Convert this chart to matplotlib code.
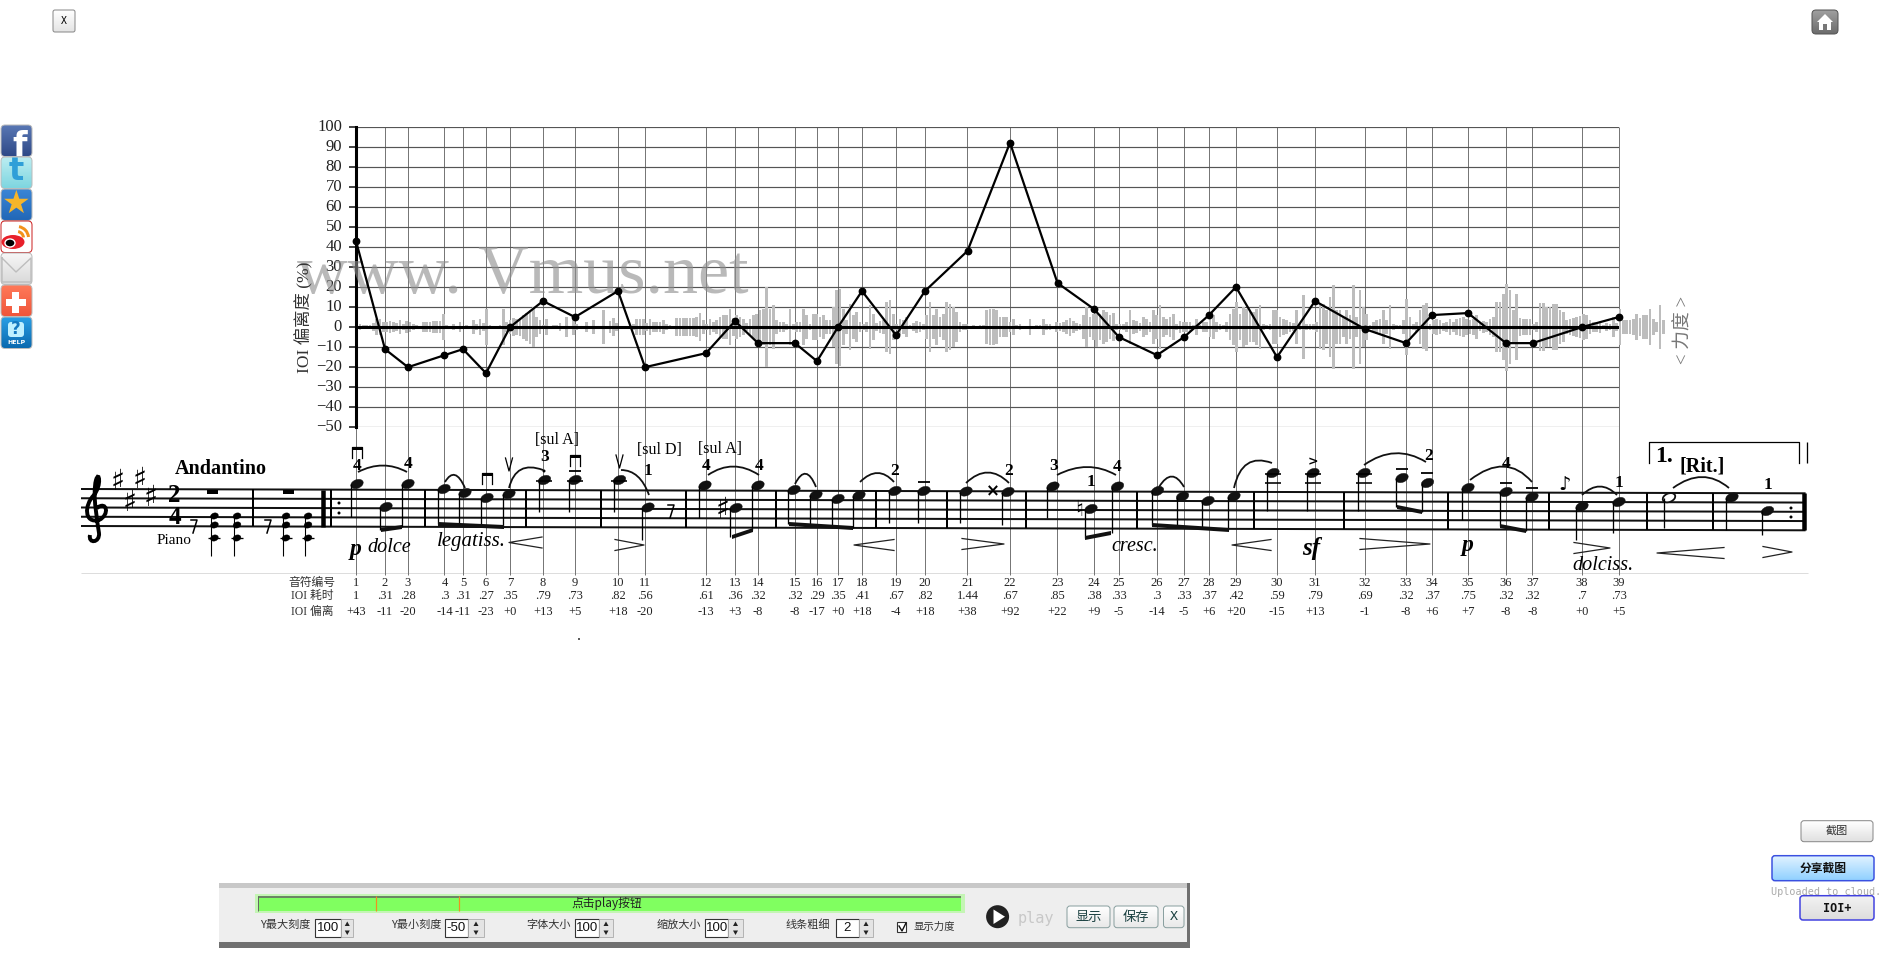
import numpy as np
import matplotlib
matplotlib.use("Agg")
import matplotlib.pyplot as plt
from matplotlib.patches import Ellipse, FancyBboxPatch, PathPatch, Rectangle, Circle, Polygon, Wedge
from matplotlib.path import Path
from matplotlib.colors import LinearSegmentedColormap
from matplotlib.transforms import ScaledTranslation

W, H = 1898, 974

# ---------- data ----------
note_ids = list(range(1, 40))
note_pos = [356, 385, 408, 444.5, 463, 486, 510, 543, 575, 618, 645, 706, 735, 758, 795, 817, 838, 862,
            896, 925, 967.5, 1010, 1057.5, 1094, 1119, 1157, 1184, 1209, 1236, 1277, 1315, 1365,
            1406, 1432, 1468, 1506, 1532.5, 1582, 1618.6]
ioi_time = ["1", ".31", ".28", ".3", ".31", ".27", ".35", ".79", ".73", ".82", ".56", ".61", ".36",
            ".32", ".32", ".29", ".35", ".41", ".67", ".82", "1.44", ".67", ".85", ".38", ".33", ".3",
            ".33", ".37", ".42", ".59", ".79", ".69", ".32", ".37", ".75", ".32", ".32", ".7", ".73"]
ioi_dev = [43, -11, -20, -14, -11, -23, 0, 13, 5, 18, -20, -13, 3, -8, -8, -17, 0, 18, -4, 18, 38, 92,
           22, 9, -5, -14, -5, 6, 20, -15, 13, -1, -8, 6, 7, -8, -8, 0, 5]
y_ticks = list(range(-50, 101, 10))

# loudness envelope, half height read in 1/6 of a percent unit, one bar per 3.33 px
wave_amp = [12, 8, 5, 5, 6, 12, 25, 25, 14, 15, 17, 16, 12, 22, 10, 18, 14, 8, 5, 4, 14, 15, 16, 18, 18, 18, 40,
            5, 4, 10, 4, 15, 4, 5, 4, 20, 8, 25, 12, 55, 5, 4, 4, 5, 55, 16, 22, 26, 25, 28, 35, 42, 50, 60,
            30, 22, 5, 25, 4, 5, 5, 12, 4, 30, 3, 25, 8, 4, 4, 14, 4, 22, 3, 4, 50, 3, 18, 28, 12, 4, 3, 4, 4,
            8, 25, 25, 25, 12, 24, 16, 16, 14, 20, 8, 7, 4, 28, 28, 28, 28, 28, 28, 30, 42, 22, 10, 25, 15, 22,
            30, 35, 35, 55, 28, 35, 30, 25, 12, 25, 35, 40, 50, 55, 120, 55, 65, 20, 15, 15, 10, 55, 10, 15, 15,
            55, 35, 10, 40, 40, 30, 35, 20, 20, 60, 110, 115, 55, 20, 70, 35, 45, 15, 10, 15, 65, 40, 12, 18,
            20, 75, 80, 40, 10, 25, 20, 30, 5, 12, 18, 15, 10, 35, 75, 35, 55, 30, 40, 75, 70, 60, 45, 15, 8,
            10, 4, 5, 3, 5, 5, 50, 55, 55, 50, 30, 30, 30, 15, 25, 5, 8, 3, 3, 25, 3, 5, 5, 25, 8, 10, 3, 14,
            12, 14, 20, 28, 18, 12, 10, 35, 60, 30, 40, 60, 40, 50, 45, 35, 42, 8, 10, 10, 14, 50, 20, 18, 12,
            30, 25, 16, 50, 35, 65, 30, 25, 30, 40, 8, 18, 16, 15, 15, 5, 25, 5, 16, 15, 30, 35, 15, 10, 5, 15,
            40, 55, 75, 40, 60, 55, 45, 45, 55, 65, 10, 5, 8, 50, 50, 30, 25, 20, 15, 12, 50, 10, 95, 10, 10,
            10, 15, 65, 70, 50, 90, 125, 50, 50, 30, 50, 35, 125, 30, 110, 60, 40, 5, 15, 20, 25, 50, 20, 65,
            8, 5, 5, 20, 85, 30, 10, 15, 50, 65, 72, 10, 20, 25, 20, 12, 15, 25, 15, 25, 28, 30, 25, 20, 25,
            35, 12, 18, 15, 25, 30, 75, 75, 100, 130, 110, 50, 100, 28, 25, 25, 25, 10, 15, 72, 72, 60, 60,
            70, 70, 50, 45, 20, 25, 28, 30, 32, 38, 35, 20, 15, 15, 18, 5, 12, 10, 30, 12, 55, 20, 22, 22, 25,
            40, 28, 35, 35, 55, 25, 15, 65, 22]
WAVE_START, WAVE_STEP, WAVE_UNIT = 356.7, 3.333, 1 / 6

# score (picture coordinates)
head_x = [357, 386, 408, 444, 465, 487, 509, 544.5, 575, 619.5, 648, 705, 736, 758, 794, 816, 838, 859,
          895, 924, 966, 1008, 1053, 1091, 1117.5, 1157.5, 1182.5, 1208, 1234, 1273, 1313, 1364, 1402,
          1427.5, 1468, 1506, 1532, 1582, 1619, 1732, 1767.5]
head_y = [484, 507, 484, 489, 493, 498, 494, 480, 480, 480, 507.5, 485.5, 508, 485.5, 490, 495, 499, 495.5,
          491, 491, 491.5, 492, 486.5, 509, 486.5, 491, 496.5, 501, 496.5, 473, 473, 473, 478, 483, 488,
          492, 497, 506.5, 502, 497.5, 511]
stem_end = [517, 530, 527, 524, 525, 526, 527, 512, 512, 512, 540, 518, 537, 530, 524, 526, 527, 528, 523, 523,
            523, 525, 518, 538, 533, 525, 527, 528, 530, 511, 511, 511, 507, 512, 520, 526, 531, 540, 533, 530, 535]
beams = [(381, 530, 402, 527), (438, 524, 504, 527), (732, 537, 753, 530), (789, 524, 853, 528),
         (1085, 538, 1111, 533), (1152, 525, 1229, 530), (1397, 507, 1422, 512), (1500, 526, 1526, 531)]
barlines = [252.7, 331, 424.6, 525.6, 600.6, 686.3, 775.6, 875.6, 947.5, 1025.6, 1137, 1253.8, 1344.4, 1448,
            1549, 1647.5, 1713]
slurs = [(358, 472, 383, 459, 407, 472), (445, 482, 455, 465, 465, 488), (509, 488, 516, 460, 543, 470),
         (621, 470, 640, 470, 649, 495), (708, 475, 733, 458, 759, 475), (795, 484, 806, 462, 816, 487),
         (860, 482, 878, 464, 894, 482), (966, 483, 988, 462, 1009, 483), (1057, 475, 1088, 459, 1116, 475),
         (1159, 487, 1172, 466, 1184, 487), (1234, 488, 1242, 452, 1272, 463), (1364, 465, 1395, 443, 1426, 462),
         (1470, 480, 1506, 452, 1532, 482), (1582, 495, 1600, 478, 1617, 495), (1673, 488, 1703, 466, 1729, 488)]
hairpins = [(509, 542, 542.5, '<'), (615, 644, 545, '>'), (854, 894, 545, '<'), (962, 1004, 544, '>'),
            (1232, 1271, 545, '<'), (1360, 1430, 544, '>'), (1574, 1610, 548, '>'), (1657, 1724, 553, '<'),
            (1763, 1792, 552, '>')]
fingerings = [(357, 465.7, '4'), (408, 464, '4'), (544.5, 457, '3'), (648, 471, '1'), (706, 466, '4'), (759, 466, '4'),
              (895, 471, '2'), (1009, 470.7, '2'), (1054, 466, '3'), (1091, 481.7, '1'), (1117.5, 467, '4'),
              (1429, 456, '2'), (1506, 464, '4'), (1619, 483, '1'), (1767.5, 485, '1')]
expressions = [(389, 548, 'dolce', 14.5), (471, 541.5, 'legatiss.', 15), (1135, 546.5, 'cresc.', 14.5),
               (1603, 565, 'dolciss.', 14.5)]
dynamics = [(356, 550, 'p', 17), (1311, 549, 'sf', 18), (1468, 546, 'p', 17)]
string_marks = [(557.5, 440, '[sul A]'), (659.5, 450.5, '[sul D]'), (720, 449, '[sul A]')]
down_bows = [(357, 447), (487, 473), (575, 455)]
up_bows = [(509, 458), (619.5, 455)]
tenuto = [(575, 470.7), (924, 482), (1402, 469), (1427.5, 473), (1506, 483), (1532, 487.7)]
sharps = [(118, 482), (130, 503), (140, 480), (151, 498), (723, 510)]
spin_boxes = [(285, 'Y最大刻度', 315, 341, 353.5, '100'), (416, 'Y最小刻度', 445, 468, 484, '-50'),
              (549, '字体大小', 575.4, 599, 613, '100'), (679, '缩放大小', 705.5, 728, 743, '100'),
              (808, '线条粗细', 836, 859, 873, '2')]

CJK = ['Noto Sans CJK SC', 'DejaVu Sans']
SER = ['Liberation Serif', 'Noto Sans CJK SC']

fig = plt.figure(figsize=(W / 100, H / 100), dpi=100, facecolor='white')

# full-figure layer in picture coordinates
bg = fig.add_axes([0, 0, 1, 1], zorder=1)
bg.set_xlim(0, W)
bg.set_ylim(H, 0)
bg.axis('off')
bg.patch.set_alpha(0)


def line(x0, y0, x1, y1, lw=1.0, c='k', z=3, ax=bg):
    ax.plot([x0, x1], [y0, y1], color=c, lw=lw * 0.72, solid_capstyle='butt', zorder=z)


def rbox(x0, y0, x1, y1, fc, ec='#888888', lw=1.0, r=3, z=5):
    p = FancyBboxPatch((x0, y0), x1 - x0, y1 - y0, boxstyle=f"round,pad=0,rounding_size={r}",
                       fc=fc, ec=ec, lw=lw * 0.72, zorder=z)
    bg.add_patch(p)
    return p


def grad(x0, y0, x1, y1, c_top, c_bot, r=3, ec='#888888', lw=1.0, z=5):
    p = rbox(x0, y0, x1, y1, 'none', ec=ec, lw=lw, r=r, z=z + 0.1)
    cm = LinearSegmentedColormap.from_list('g', [c_top, c_bot])
    im = bg.imshow(np.linspace(0, 1, 32)[:, None], extent=(x0, x1, y1, y0), cmap=cm, aspect='auto', zorder=z)
    clip = FancyBboxPatch((x0, y0), x1 - x0, y1 - y0, boxstyle=f"round,pad=0,rounding_size={r}",
                          transform=bg.transData, fc='none', ec='none')
    bg.add_patch(clip)
    im.set_clip_path(clip)
    bg.set_xlim(0, W)
    bg.set_ylim(H, 0)
    return p


# ---------- score ----------
for k in range(5):
    yl = 489 + k * 9.25
    line(81, yl, 1805.6, yl + 4.3, lw=2.0, c='#111111')
line(81, 573, 1808, 573, lw=1, c='#dddddd', z=1)
for x in note_pos:
    line(x, 126.7, x, 575, lw=1, c='#777777', z=2)
for x in barlines:
    t = (x - 81) / 1724.6 * 4.3
    line(x, 489 + t, x, 526 + t, lw=2.0)
line(323.5, 489.6, 323.5, 526.6, lw=4.5)
line(1803.8, 493.3, 1803.8, 530.3, lw=4.5)
for hx, hy, se in zip(head_x, head_y, stem_end):
    bg.add_patch(Ellipse((hx, hy), 13, 8.6, angle=-22, fc='#111111', ec='#111111', lw=0.3, zorder=4))
    line(hx - 5.5, hy, hx - 5.5, se, lw=1.3, z=4)
bg.add_patch(Ellipse((1669, 497.7), 13, 8.5, angle=-22, fc='white', ec='#111111', lw=1.3, zorder=4))
line(1664, 498, 1664, 528, lw=1.3, z=4)
for x0, y0, x1, y1 in beams:
    bg.add_patch(Polygon([(x0, y0 - 2), (x1, y1 - 2), (x1, y1 + 2), (x0, y0 + 2)], fc='#111111', ec='none', zorder=4))
for x0, y0, cx, cy, x1, y1 in slurs:
    bg.add_patch(PathPatch(Path([(x0, y0), (cx, cy), (x1, y1)], [Path.MOVETO, Path.CURVE3, Path.CURVE3]),
                           fc='none', ec='#111111', lw=1.3, zorder=4))
for x0, x1, yc, kind in hairpins:
    tip, op = (x0, x1) if kind == '<' else (x1, x0)
    bg.plot([op, tip, op], [yc - 5.5, yc, yc + 5.5], color='#222222', lw=0.9, zorder=4)
for x, y, s in fingerings:
    bg.text(x, y, s, family='Liberation Serif', weight='bold', fontsize=12.5, ha='center', va='center', zorder=6)
for x, y, s, fs in expressions:
    bg.text(x, y, s, family='Liberation Serif', style='italic', fontsize=fs, ha='center', va='center', zorder=6)
for x, y, s, fs in dynamics:
    bg.text(x, y, s, family='Liberation Serif', style='italic', weight='bold', fontsize=fs, ha='center', va='center', zorder=6)
for x, y, s in string_marks:
    bg.text(x, y, s, family='Liberation Serif', fontsize=11.5, ha='center', va='center', zorder=6)
for x, y in down_bows:
    bg.plot([x - 5, x - 5, x + 5, x + 5], [y + 11, y, y, y + 11], color='k', lw=0.9, zorder=6)
    line(x - 5, y + 1, x + 5, y + 1, lw=3, z=6)
for x, y in up_bows:
    bg.plot([x - 3.5, x, x + 3.5], [y, y + 13, y], color='k', lw=0.9, zorder=6)
for x, y in tenuto:
    line(x - 6, y, x + 6, y, lw=1.8, z=6)
for x in head_x[7:10]:
    line(x - 8, 481, x + 8, 481, lw=1.6, z=4)
for x in head_x[29:32]:
    line(x - 8, 483, x + 8, 483, lw=1.6, z=4)
    line(x - 8, 474, x + 8, 474, lw=1.6, z=4)
for x, y in sharps:
    bg.text(x, y, '♯', family='DejaVu Sans', weight='bold', fontsize=21, ha='center', va='center', zorder=6)
bg.text(1079, 510, '♮', family='DejaVu Sans', weight='bold', fontsize=16, ha='center', va='center', zorder=6)
bg.text(992.5, 491, '×', family='DejaVu Sans', weight='bold', fontsize=12, ha='center', va='center', zorder=6)
bg.text(1313, 462, '>', family='DejaVu Sans', weight='bold', fontsize=9, ha='center', va='center', zorder=6)
bg.text(1565, 484, '♪', family='DejaVu Sans', fontsize=14, ha='center', va='center', zorder=6)
for x, y in [(339, 503), (339, 513), (1791, 508), (1791, 517), (544, 471)]:
    bg.add_patch(Circle((x, y), 1.5, fc='k', ec='none', zorder=6))
# clef
clef = [(97, 508), (107, 500), (110, 515), (99, 520), (84, 524), (84, 505), (94, 495), (102, 485), (99, 470), (96, 480),
        (92, 495), (98, 525), (99, 533), (100, 543), (88, 544), (90, 535)]
codes = [Path.MOVETO] + [Path.CURVE4] * 15
bg.add_patch(PathPatch(Path(clef, codes), fc='none', ec='k', lw=2.8, zorder=6))
# time signature, piano part and rests
bg.text(174.6, 496, '2', family='Liberation Serif', weight='bold', fontsize=18, ha='center', va='center', zorder=6)
bg.text(174.6, 518, '4', family='Liberation Serif', weight='bold', fontsize=18, ha='center', va='center', zorder=6)
bg.text(220.5, 469, 'Andantino', family='Liberation Serif', weight='bold', fontsize=14.5, ha='center', va='center', zorder=6)
bg.text(173.6, 541, 'Piano', family='Liberation Serif', fontsize=11, ha='center', va='center', zorder=6)
for x in [213, 289]:
    bg.add_patch(Rectangle((x - 5.5, 490), 11, 4, fc='k', ec='none', zorder=4))
for x in [214.4, 237, 286, 308]:
    for y in [516, 525, 538]:
        bg.add_patch(Ellipse((x, y), 8, 6, angle=-20, fc='k', ec='k', lw=0.3, zorder=4))
    line(x - 3, 516, x - 3, 556, lw=1.1, z=4)
    line(x - 6, 538, x + 6, 538, lw=1.3, z=4)
for x, y in [(194, 525), (268, 525), (671, 510)]:
    bg.plot([x - 3, x + 3, x - 1], [y - 5, y - 5, y + 8], color='k', lw=1.1, zorder=4)
# volta
bg.plot([1649, 1649, 1799, 1799], [463, 442, 442, 463], color='k', lw=0.9, zorder=4)
line(1807, 442, 1807, 463, lw=1.3)
bg.text(1664, 457, '1.', family='Liberation Serif', weight='bold', fontsize=17, ha='center', va='center', zorder=6)
bg.text(1702, 466, '[Rit.]', family='Liberation Serif', weight='bold', fontsize=14.5, ha='center', va='center', zorder=6)

# ---------- rows under the score ----------
for yy, s, fam in [(582.7, '音符编号', CJK), (596, 'IOI 耗时', SER), (612, 'IOI 偏离', SER)]:
    bg.text(312, yy, s, family=fam, fontsize=8.5, color='#333333', ha='center', va='center', zorder=6)
for x, n, t, d in zip(note_pos, note_ids, ioi_time, ioi_dev):
    bg.text(x, 582.7, str(n), family='Liberation Serif', fontsize=9, color='#222222', ha='center', va='center', zorder=6)
    bg.text(x, 596, t, family='Liberation Serif', fontsize=9, color='#222222', ha='center', va='center', zorder=6)
    bg.text(x, 612, f"{d:+d}", family='Liberation Serif', fontsize=9, color='#222222', ha='center', va='center', zorder=6)
bg.add_patch(Circle((579, 639), 0.9, fc='k', ec='none'))

# ---------- chart ----------
X0, X1, Y100, YM50 = 356.0, 1618.6, 126.7, 427.3
ax = fig.add_axes([X0 / W, 1 - YM50 / H, (X1 - X0) / W, (YM50 - Y100) / H], zorder=2)
ax.patch.set_alpha(0)
ax.set_xlim(X0, X1)
ax.set_ylim(-50, 100)
for s in ['top', 'right', 'bottom']:
    ax.spines[s].set_visible(False)
ax.spines['left'].set_linewidth(2.2)
ax.set_xticks([])
ax.set_yticks(y_ticks)
ax.tick_params(axis='y', length=5, width=1.2, pad=5, labelsize=12, colors='#222222')
for lab in ax.get_yticklabels():
    lab.set_family('Liberation Serif')
    lab.set_transform(lab.get_transform() + ScaledTranslation(0, 2 / 100, fig.dpi_scale_trans))
ax.grid(True, axis='y', color='#555555', lw=0.85, zorder=1)
ax.set_axisbelow(True)
wave_x = WAVE_START + WAVE_STEP * np.arange(len(wave_amp))
wave_h = np.array(wave_amp) * WAVE_UNIT
ax.bar(wave_x, 2 * wave_h, bottom=-wave_h, width=2.6, color='#bdbdbd', clip_on=False, zorder=1.5)
ax.axhline(0, color='k', lw=2.2, zorder=2.5)
ax.plot(note_pos, ioi_dev, color='k', lw=1.6, marker='o', ms=4.6, clip_on=False, zorder=4)
ax.text(297, 292.7, 'www. Vmus.net', transform=bg.transData, family='Liberation Serif', fontsize=50.5,
        color='#8f8f8f', alpha=0.62, ha='left', va='baseline', zorder=3)
ax.text(304.5, 317.5, 'IOI 偏离度 (%)', transform=bg.transData, family=SER, fontsize=12.5, color='#333333',
        rotation=90, ha='center', va='center', zorder=5)
ax.text(1684, 330, '< 力度 >', transform=bg.transData, family=SER, fontsize=13.5, color='#777777',
        rotation=90, ha='center', va='center', zorder=5)

# ---------- page furniture ----------
grad(53, 10, 75, 32, '#ffffff', '#e4e4e4', r=2)
bg.text(64, 21, 'X', family='DejaVu Sans Mono', fontsize=7, ha='center', va='center', zorder=7)
# home
grad(1812, 10, 1838, 34, '#a0a0a0', '#6c6c6c', r=4, ec='#555555')
bg.add_patch(Polygon([(1825, 14), (1833, 22), (1817, 22)], fc='white', ec='none', zorder=7))
bg.add_patch(Rectangle((1819, 22), 12, 8, fc='white', ec='none', zorder=7))
bg.add_patch(Rectangle((1823, 24), 4, 6, fc='#777777', ec='none', zorder=7))
# social icons
icons = [('#5a78b5', '#2f4a88'), ('#bdeef2', '#7fd6e0'), ('#3b86d6', '#2268b8'), ('#ffffff', '#ffffff'),
         ('#f8f8f8', '#d8d8d8'), ('#ff7a5a', '#f0563a'), ('#2aa0e6', '#0a6ab0')]
for i, (c1, c2) in enumerate(icons):
    y0 = 125 + 32 * i
    grad(1, y0, 32, y0 + 31.5, c1, c2, r=4, ec='#cc2222' if i == 3 else '#bbbbbb')
bg.text(20, 146, 'f', family='DejaVu Sans', weight='bold', fontsize=24, color='white', ha='center', va='center', zorder=7)
bg.text(16, 172, 't', family='DejaVu Sans', weight='bold', fontsize=23, color='#2f9fd8', ha='center', va='center', zorder=7)
bg.text(16, 204, '★', family='DejaVu Sans', fontsize=23, color='#f6b52a', ha='center', va='center', zorder=7)
bg.add_patch(Ellipse((13, 242), 23, 14, fc='#e8202a', ec='none', zorder=7))
bg.add_patch(Ellipse((10, 243), 10, 8, fc='black', ec='white', lw=1, zorder=7))
bg.add_patch(Wedge((17, 238), 13, 280, 355, width=3, fc='#f2921c', ec='none', zorder=7))
bg.add_patch(Wedge((17, 238), 8, 280, 355, width=3, fc='#f2921c', ec='none', zorder=7))
bg.plot([2, 16, 31, 31, 2, 2], [258, 272, 258, 282, 282, 258], color='#bdbdbd', lw=1, zorder=7)
bg.add_patch(Rectangle((12.5, 292), 7, 21, fc='white', ec='none', zorder=7))
bg.add_patch(Rectangle((6, 299), 20, 7, fc='white', ec='none', zorder=7))
bg.add_patch(FancyBboxPatch((8, 322), 16, 15, boxstyle="round,pad=0,rounding_size=3", fc='#bff0ff', ec='none', zorder=7))
bg.text(16, 329.5, '?', family='DejaVu Sans', weight='bold', fontsize=12, color='#1478c0', ha='center', va='center', zorder=8)
bg.text(16, 343, 'HELP', family='DejaVu Sans', weight='bold', fontsize=4.5, color='white', ha='center', va='center', zorder=8)
# right buttons
grad(1801, 820.7, 1873, 841.7, '#ffffff', '#e0e0e0', r=3)
bg.text(1837, 831, '截图', family=CJK, fontsize=8, color='#333333', ha='center', va='center', zorder=7)
grad(1772, 855.7, 1874, 880.7, '#dff2ff', '#8fd0ff', r=3, ec='#3a50e0', lw=1.5)
bg.text(1823, 868, '分享截图', family=CJK, weight='bold', fontsize=8.5, color='#111111', ha='center', va='center', zorder=7)
bg.text(1826.5, 892, 'Uploaded to cloud.', family='DejaVu Sans Mono', fontsize=7.3, color='#aaaaaa', ha='center', va='center', zorder=4)
grad(1800, 895.7, 1874, 920, '#f4f4f4', '#dcdcdc', r=3, ec='#4040e0', lw=1.5)
bg.text(1837, 908, 'IOI+', family='DejaVu Sans Mono', weight='bold', fontsize=8.5, color='#111111', ha='center', va='center', zorder=7)

# control panel
bg.add_patch(Rectangle((219, 882.7), 971, 65, fc='#eeeeee', ec='none', zorder=3))
bg.add_patch(Rectangle((219, 882.7), 971, 5.5, fc='#c8c8c8', ec='none', zorder=3.1))
bg.add_patch(Rectangle((219, 941.7), 971, 6, fc='#707070', ec='none', zorder=3.1))
bg.add_patch(Rectangle((1187.5, 882.7), 2.5, 65, fc='#707070', ec='none', zorder=3.1))
bg.add_patch(Rectangle((255, 893.5), 710, 19, fc='#c4f5b4', ec='none', zorder=3.2))
bg.add_patch(Rectangle((258, 895.7), 703, 15, fc='#80ff60', ec='none', zorder=3.3))
line(258, 896.5, 961, 896.5, lw=1.6, c='#666666', z=3.4)
line(258.5, 896, 258.5, 910.7, lw=1, c='#666666', z=3.4)
for x in [376.5, 459.4]:
    line(x, 896, x, 910.7, lw=1.2, c='#f09020', z=3.5)
bg.text(606.7, 903, '点击play按钮', family=CJK, fontsize=8.5, color='#222222', ha='center', va='center', zorder=6)
for cx, s, x0, x1, x2, val in spin_boxes:
    bg.text(cx, 925, s, family=CJK, fontsize=8, color='#333333', ha='center', va='center', zorder=6)
    bg.add_patch(Rectangle((x0, 919), x1 - x0, 18, fc='white', ec='#333333', lw=0.8, zorder=5))
    bg.add_patch(Rectangle((x1, 919), x2 - x1, 18, fc='#e4e4e4', ec='#aaaaaa', lw=0.6, zorder=5))
    xm = (x1 + x2) / 2
    bg.add_patch(Polygon([(xm, 921.5), (xm + 2.5, 926), (xm - 2.5, 926)], fc='#222222', ec='none', zorder=6))
    bg.add_patch(Polygon([(xm, 935), (xm + 2.5, 930.5), (xm - 2.5, 930.5)], fc='#222222', ec='none', zorder=6))
    bg.text((x0 + x1) / 2, 928, val, family='Liberation Sans', fontsize=9.5, color='#111111', ha='center', va='center', zorder=6)
bg.add_patch(Rectangle((897.5, 922), 9, 10, fc='white', ec='#333333', lw=0.8, zorder=5))
bg.plot([899, 902, 906], [926, 931, 923], color='#111111', lw=1, zorder=6)
bg.text(934, 927, '显示力度', family=CJK, fontsize=7.5, color='#333333', ha='center', va='center', zorder=6)
bg.add_patch(Circle((997.6, 916.7), 11.5, fc='#222222', ec='none', zorder=5))
bg.add_patch(Polygon([(993.5, 909.5), (1005, 916.7), (993.5, 924)], fc='white', ec='none', zorder=6))
bg.text(1036, 918, 'play', family='DejaVu Sans Mono', fontsize=11, color='#c8c8c8', ha='center', va='center', zorder=6)
for x0, x1, s, fam in [(1067, 1110, '显示', CJK), (1114, 1158, '保存', CJK), (1163.5, 1184, 'X', ['DejaVu Sans Mono'])]:
    grad(x0, 906, x1, 927.7, '#ffffff', '#e8e8e8', r=3, ec='#8aa0a0', z=5)
    bg.text((x0 + x1) / 2, 917, s, family=fam, fontsize=9.5, color='#1a4040', ha='center', va='center', zorder=7)

fig.savefig('out.png', dpi=100, facecolor='white')
